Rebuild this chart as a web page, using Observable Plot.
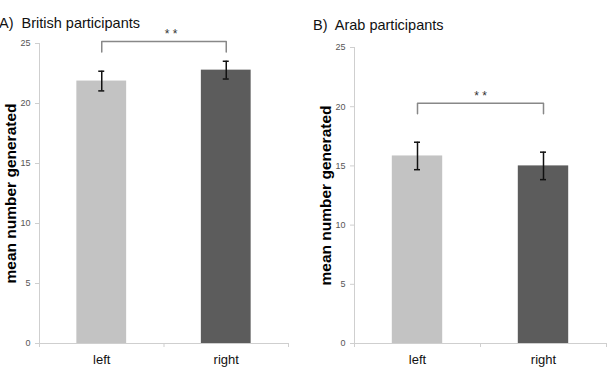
<!DOCTYPE html>
<html>
<head>
<meta charset="utf-8">
<script src="https://cdn.jsdelivr.net/npm/d3@7"></script>
<script src="https://cdn.jsdelivr.net/npm/@observablehq/plot@0.6"></script>
<style>
  body { margin: 0; background: #fff; }
  #fig { position: relative; width: 612px; height: 372px; overflow: hidden; font-family: "Liberation Sans", Arial, sans-serif; }
  .panel { position: absolute; top: 0; }
  .title { position: absolute; font-size: 14.5px; line-height: 1; white-space: pre; color: #111; z-index: 2; }
</style>
</head>
<body>
<div id="fig"></div>
<script>
// Hand condition (left / right) on the x axis
const conditions = ["left", "right"];
// Mean number generated, with error bar half-widths
const britishMeans = [21.87, 22.78];
const britishErrors = [0.82, 0.74];
const arabMeans = [15.84, 15.0];
const arabErrors = [1.16, 1.16];
// Significance brackets: [foot, top] in data units
const britishBracket = [24.3, 25.17];
const arabBracket = [19.4, 20.3];
const yTicks = [0, 5, 10, 15, 20, 25];
const panelTitles = ["A)  British participants", "B)  Arab participants"];
const yLabel = "mean number generated";
const starsLabel = "* *";
const barColors = ["#c3c3c3", "#5c5c5c"];

const fig = document.getElementById("fig");
const font = '"Liberation Sans", Arial, sans-serif';
const axisGray = "#cfcfcf";

function drawPanel({means, errors, bracket, starsDx, marginLeft, marginRight, marginTop}) {
  const rows = conditions.map((c, i) => ({condition: c, i, mean: means[i], err: errors[i]}));
  const center = (r) => r.i + 0.5;
  const [foot, top] = bracket;
  const a = center(rows[0]), b = center(rows[1]);
  return Plot.plot({
    width: 306,
    height: 372,
    marginLeft,
    marginRight,
    marginTop,
    marginBottom: 29,
    style: {fontFamily: font, background: "transparent", overflow: "visible"},
    x: {domain: [0, conditions.length], axis: null},
    y: {domain: [0, 25], axis: null},
    color: {domain: conditions, range: barColors},
    marks: [
      Plot.rectY(rows, {x1: (r) => r.i + 0.3, x2: (r) => r.i + 0.7, y: "mean", fill: "condition"}),
      Plot.ruleY([0], {stroke: axisGray}),
      Plot.ruleX([0], {stroke: axisGray}),
      Plot.axisY(yTicks, {tickSize: 4, tickPadding: 5, stroke: axisGray, fill: "#555", fontSize: 9, label: null}),
      Plot.axisX(d3.range(conditions.length + 1), {tickSize: 4, tickFormat: () => "", stroke: axisGray, label: null}),
      Plot.axisX(rows.map(center), {tickSize: 0, tickPadding: 11, tickFormat: (d) => conditions[Math.floor(d)], fontSize: 13, fill: "#111", label: null}),
      // error bars
      Plot.ruleX(rows, {x: center, y1: (r) => r.mean - r.err, y2: (r) => r.mean + r.err, stroke: "#111", strokeWidth: 1.5}),
      Plot.ruleY(rows, {x1: center, x2: center, y: (r) => r.mean + r.err, insetLeft: -3, insetRight: -3, stroke: "#111", strokeWidth: 1.5}),
      Plot.ruleY(rows, {x1: center, x2: center, y: (r) => r.mean - r.err, insetLeft: -3, insetRight: -3, stroke: "#111", strokeWidth: 1.5}),
      // significance bracket
      Plot.line([[a, foot], [a, top], [b, top], [b, foot]], {stroke: "#888", strokeWidth: 1.5}),
      Plot.text([starsLabel], {text: (d) => d, x: (a + b) / 2, y: top, dx: starsDx, dy: -3, lineAnchor: "bottom", fontSize: 12, fill: "#333"}),
      // y axis title
      Plot.text([yLabel], {text: (d) => d, frameAnchor: "left", textAnchor: "middle", dx: -28, rotate: -90, fontSize: 15.5, fontWeight: "bold", fill: "#000"})
    ]
  });
}

const panelA = drawPanel({means: britishMeans, errors: britishErrors, bracket: britishBracket, starsDx: 7, marginLeft: 39, marginRight: 18, marginTop: 43});
const panelB = drawPanel({means: arabMeans, errors: arabErrors, bracket: arabBracket, starsDx: 0, marginLeft: 48, marginRight: 6, marginTop: 47});

[[panelA, 0], [panelB, 306]].forEach(([svg, left]) => {
  svg.classList.add("panel");
  svg.style.left = left + "px";
  fig.appendChild(svg);
});

[[panelTitles[0], -1, 15.7], [panelTitles[1], 313, 17.7]].forEach(([text, left, top]) => {
  const div = document.createElement("div");
  div.className = "title";
  div.textContent = text;
  div.style.left = left + "px";
  div.style.top = top + "px";
  fig.appendChild(div);
});
</script>
</body>
</html>
